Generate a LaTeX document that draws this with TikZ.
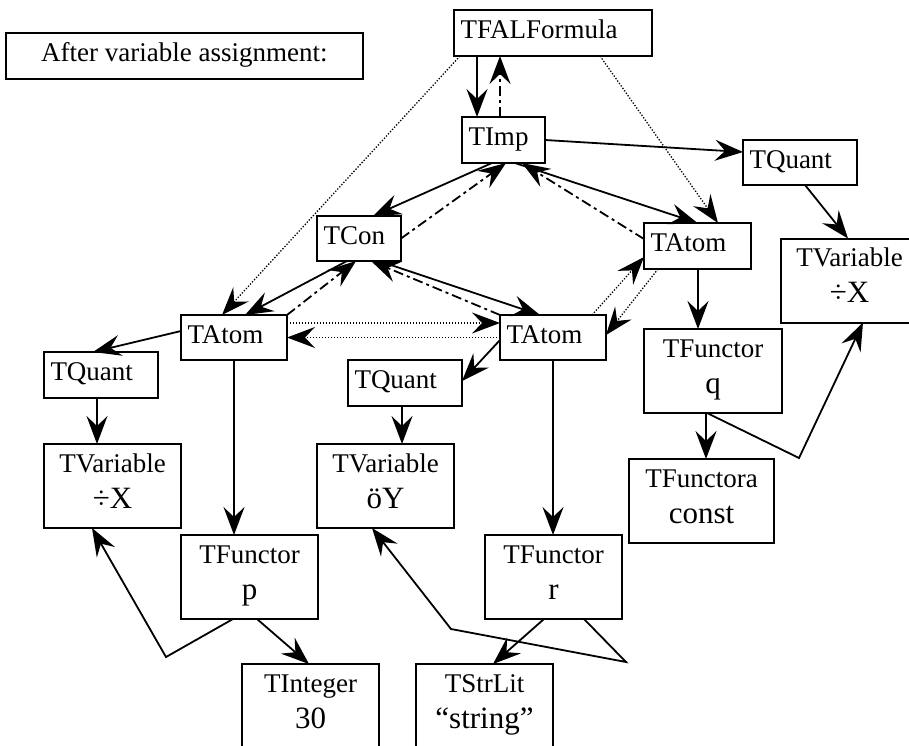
\documentclass[tikz,border=0pt]{standalone}
\usepackage{fontspec}
\setmainfont{Liberation Serif}
\usetikzlibrary{arrows.meta}
\newcommand\fstline{\rule{0pt}{28pt}}
\newcommand\sndline[1]{{\fontsize{31}{36}\selectfont #1}\rule[-20pt]{0pt}{20pt}}
\tikzset{
  box/.style={draw, line width=2pt, inner sep=0pt, outer sep=0pt, font=\fontsize{27}{36}\selectfont},
  one/.style={box, text height=28pt, text depth=17pt, inner xsep=6.5pt, align=left, minimum height=45pt},
  two/.style={box, align=center, minimum width=137pt, minimum height=84pt},
  conn/.style={line width=1.8pt, -{Stealth[length=28pt,width=21pt,inset=10pt]}},
  dd/.style={conn, dash pattern=on 10pt off 4pt on 3pt off 4pt},
  dt/.style={conn, line width=1.3pt, dash pattern=on 1.3pt off 1.7pt},
}
\begin{document}
\begin{tikzpicture}[x=1pt,y=-1pt]
\useasboundingbox (0,0) rectangle (909,745);
% nodes
\node[box, minimum width=357pt, minimum height=46pt, text height=28pt, text depth=17pt] (note) at (184.3,56) {After variable assignment:};
\node[one, text width=185pt, minimum height=46pt] (fal) at (553,33) {TFALFormula};
\node[one, text width=70pt, minimum height=46pt] (imp) at (503.5,140) {TImp};
\node[one, text width=71pt] (tcon) at (359,238.5) {TCon};
\node[one, text width=93pt] (atomL) at (234,337.5) {TAtom};
\node[one, text width=93pt] (atomM) at (553,337.5) {TAtom};
\node[one, text width=94pt, minimum height=46pt] (atomR) at (697.5,246) {TAtom};
\node[one, text width=101pt] (quantR) at (800,162.5) {TQuant};
\node[one, text width=101pt, minimum height=46pt] (quantL) at (101,375) {TQuant};
\node[one, text width=101pt, minimum height=46pt] (quantM) at (405,383) {TQuant};
\node[two] (varR) at (849.5,280.5) {\fstline TVariable\\\sndline{÷X}};
\node[two] (varL) at (112.5,486) {\fstline TVariable\\\sndline{÷X}};
\node[two] (varM) at (385.5,486) {\fstline TVariable\\\sndline{öY}};
\node[two] (funP) at (249.5,577) {\fstline TFunctor\\\sndline{p}};
\node[two] (funR) at (553.5,577) {\fstline TFunctor\\\sndline{r}};
\node[two, minimum width=138pt] (funQ) at (713,371) {\fstline TFunctor\\\sndline{q}};
\node[two, minimum width=145pt] (funA) at (701.5,501) {\fstline TFunctora\\\sndline{const}};
\node[two] (int) at (310.5,706) {\fstline TInteger\\\sndline{30}};
\node[two] (str) at (484.5,706) {\fstline TStrLit\\\sndline{“string”}};
% bend points
\coordinate (bq) at (799,458);
\coordinate (bp) at (166,657);
\coordinate (br1) at (626,662);
\coordinate (br2) at (451,629);
% connectors
\draw[conn] ([xshift=23pt]fal.south west) -- ([xshift=15pt]imp.north west);
\draw[dd] ([xshift=38pt]imp.north west) -- ([xshift=46pt]fal.south west);
\draw[dt] ([xshift=6pt]fal.south west) -- ([xshift=41pt]atomL.north west);
\draw[dt] ([xshift=146pt]fal.south west) -- ([xshift=74pt]atomR.north west);
\draw[conn] (imp.east) -- ([yshift=-12pt]quantR.north west);
\draw[conn] ([xshift=30pt]imp.south west) -- ([xshift=56pt]tcon.north west);
\draw[dd] (tcon.east) -- ([xshift=44pt]imp.south west);
\draw[conn] ([xshift=53pt]imp.south west) -- (atomR.north);
\draw[dd] ([yshift=-16pt]atomR.north west) -- ([xshift=60pt]imp.south west);
\draw[conn] ([xshift=30pt]tcon.south west) -- ([xshift=64pt]atomL.north west);
\draw[dd] (atomL.north east) -- ([xshift=39pt]tcon.south west);
\draw[conn] ([xshift=62pt]tcon.south west) -- ([xshift=40pt]atomM.north west);
\draw[dd] (atomM.north west) -- ([xshift=54pt]tcon.south west);
\draw[dt] ([yshift=-8pt]atomL.north east) -- ([yshift=-8pt]atomM.north west);
\draw[dt] (atomM.west) -- (atomL.east);
\draw[dt] ([xshift=92pt]atomM.north west) -- ([yshift=12pt]atomR.south west);
\draw[dt] ([xshift=14pt]atomR.south west) -- ([yshift=-20pt]atomM.north east);
\draw[conn] ([yshift=-16pt]atomL.north west) -- ([xshift=49pt]quantL.north west);
\draw[conn] ([xshift=53pt]quantL.south west) -- ([xshift=53pt]varL.north west);
\draw[conn] (atomL.south) -- ([xshift=53pt]funP.north west);
\draw[conn] ([yshift=-2.5pt]atomM.west) -- ([yshift=-21pt]quantM.north east);
\draw[conn] ([xshift=54pt]quantM.south west) -- ([xshift=85pt]varM.north west);
\draw[conn] (atomM.south) -- ([xshift=68pt]funR.north west);
\draw[conn] ([xshift=54pt]atomR.south west) -- ([xshift=54pt]funQ.north west);
\draw[conn] ([xshift=62pt]quantR.south west) -- ([xshift=67pt]varR.north west);
\draw[conn] ([xshift=62pt]funQ.south west) -- ([xshift=77pt]funA.north west);
\draw[conn] ([xshift=63pt]funQ.south west) -- (bq) -- ([xshift=82pt]varR.south west);
\draw[conn] ([xshift=76pt]funP.south west) -- ([xshift=67pt]int.north west);
\draw[conn] ([xshift=52pt]funP.south west) -- (bp) -- ([xshift=48pt]varL.south west);
\draw[conn] ([xshift=59pt]funR.south west) -- ([xshift=77pt]str.north west);
\draw[conn] ([xshift=99pt]funR.south west) -- (br1) -- (br2) -- ([xshift=55pt]varM.south west);
\end{tikzpicture}
\end{document}
